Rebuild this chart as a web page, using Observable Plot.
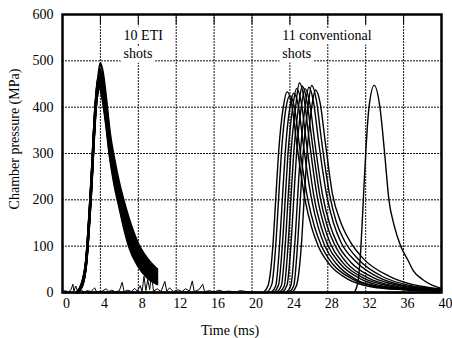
<!DOCTYPE html>
<html>
<head>
<meta charset="utf-8">
<script src="https://cdn.jsdelivr.net/npm/d3@7"></script>
<script src="https://cdn.jsdelivr.net/npm/@observablehq/plot@0.6"></script>
<style>
  html, body { margin: 0; padding: 0; background: white; }
  #chart { width: 452px; height: 338px; }
</style>
</head>
<body>
<div id="chart"></div>
<script>
// Axis ticks
const xTicks = [0, 4, 8, 12, 16, 20, 24, 28, 32, 36, 40];
const yTicks = [0, 100, 200, 300, 400, 500, 600];

// ETI shots (time in ms, pressure in MPa)
const etiT  = [1.5, 2.0, 2.5, 3.0, 3.5, 3.8, 4.0, 4.3, 4.6, 5.0, 5.5, 6.0, 6.5, 7.0, 8.0, 9.0, 10.0];
const eti1  = [0, 18, 70, 225, 410, 470, 495, 470, 420, 345, 285, 235, 195, 160, 105, 72, 50];
const eti2  = [0, 15, 65, 215, 400, 455, 480, 455, 410, 335, 275, 228, 188, 152, 100, 68, 46];
const eti3  = [0, 12, 62, 210, 395, 450, 470, 445, 400, 330, 268, 220, 180, 145, 95, 62, 42];
const eti4  = [0, 14, 68, 220, 405, 460, 465, 440, 395, 322, 262, 214, 172, 138, 88, 57, 38];
const eti5  = [0, 10, 60, 205, 390, 445, 460, 432, 388, 318, 255, 208, 165, 130, 82, 52, 34];
const eti6  = [0, 16, 72, 228, 412, 465, 455, 428, 382, 312, 250, 202, 160, 124, 76, 47, 30];
const eti7  = [0, 11, 63, 212, 398, 440, 450, 422, 378, 308, 246, 198, 154, 118, 70, 42, 27];
const eti8  = [0, 13, 66, 218, 402, 452, 448, 418, 372, 302, 240, 193, 148, 112, 65, 38, 24];
const eti9  = [0, 12, 64, 214, 396, 445, 442, 412, 368, 298, 236, 188, 142, 106, 60, 34, 21];
const eti10 = [0, 15, 69, 222, 408, 458, 440, 408, 362, 292, 230, 184, 138, 100, 56, 31, 18];

// Baseline noise of the ETI records
const noiseT = [0, 0.3, 0.6, 0.9, 1.1, 1.2, 1.4, 1.6, 2.0, 2.3, 2.6, 3.0, 3.4, 3.6, 4.2, 4.6, 4.9, 5.2, 5.6, 6.0, 6.3, 6.5, 6.9, 7.3, 7.6, 7.9, 8.2, 8.4, 8.6, 8.8, 9.0, 9.2, 9.4, 9.6, 10.0, 10.4, 10.8, 11.0, 11.3, 11.7, 12.2, 12.6, 13.0, 13.4, 13.7, 13.9, 14.4, 14.8, 15.0, 15.5, 16.0, 16.5, 17.0, 17.6, 18.2, 18.8, 19.4, 20.0];
const noiseP = [2, 4, 1, 6, 18, 3, 14, 2, 5, 1, 4, 2, 10, 1, 3, 8, 2, 5, 1, 4, 22, 2, 5, 2, 9, 3, 15, 2, 35, 4, 28, 6, 40, 3, 8, 2, 24, 3, 10, 2, 6, 2, 8, 3, 25, 2, 6, 18, 2, 4, 1, 5, 2, 3, 1, 4, 2, 1];

// Conventional shots: [time ms, pressure MPa]
const conv1  = [[21.2,0],[21.7,15],[22.2,100],[22.5,200],[22.8,300],[23.3,400],[23.7,433],[24.2,405],[24.7,325],[25.6,200],[26.3,140],[27.0,100],[28.2,60],[30.2,28],[32.7,12],[36,6],[40,3]];
const conv2  = [[21.6,0],[22.1,18],[22.5,100],[22.8,200],[23.1,300],[23.6,400],[24.0,425],[24.5,398],[25.0,318],[25.9,200],[26.6,142],[27.3,102],[28.5,62],[30.5,30],[33.0,13],[36.5,6],[40,3]];
const conv3  = [[22.0,0],[22.5,14],[22.9,100],[23.2,200],[23.5,300],[24.0,400],[24.4,430],[24.9,402],[25.4,322],[26.3,200],[27.0,140],[27.7,100],[28.9,62],[30.9,29],[33.4,13],[37,6],[40,3]];
const conv4  = [[22.3,0],[22.8,16],[23.2,100],[23.5,200],[23.8,300],[24.3,400],[24.7,440],[25.2,410],[25.7,330],[26.6,200],[27.3,142],[28.0,102],[29.3,62],[31.4,30],[34.0,13],[37.5,6],[40,3]];
const conv5  = [[22.6,0],[23.1,15],[23.5,100],[23.8,200],[24.1,300],[24.6,400],[25.0,452],[25.5,418],[26.0,335],[26.9,205],[27.6,145],[28.3,104],[29.6,64],[31.8,31],[34.5,14],[38,6],[40,4]];
const conv6  = [[22.9,0],[23.4,14],[23.8,100],[24.1,200],[24.4,300],[24.9,400],[25.3,445],[25.8,412],[26.3,332],[27.2,205],[27.9,146],[28.7,104],[30.0,64],[32.3,31],[35.0,14],[38.5,6],[40,4]];
const conv7  = [[23.2,0],[23.7,16],[24.1,100],[24.4,200],[24.7,300],[25.2,400],[25.6,440],[26.1,408],[26.6,328],[27.5,205],[28.2,148],[29.0,106],[30.4,66],[32.8,32],[35.5,15],[39,7],[40,5]];
const conv8  = [[23.6,0],[24.1,15],[24.5,100],[24.8,200],[25.1,300],[25.6,400],[26.0,443],[26.5,410],[27.0,330],[27.9,208],[28.6,150],[29.4,108],[30.9,68],[33.3,33],[36.0,15],[39,8],[40,6]];
const conv9  = [[23.9,0],[24.4,14],[24.8,100],[25.1,200],[25.4,300],[25.9,400],[26.3,447],[26.8,414],[27.3,334],[28.2,210],[28.9,152],[29.8,110],[31.3,70],[33.8,34],[36.5,16],[39,9],[40,6]];
const conv10 = [[24.2,0],[24.7,15],[25.2,100],[25.5,200],[25.8,300],[26.3,400],[26.7,437],[27.2,408],[27.7,330],[28.5,212],[29.3,155],[30.3,112],[31.8,72],[34.5,35],[37.0,17],[39,10],[40,7]];
const conv11 = [[30.8,0],[31.2,25],[31.5,100],[31.75,200],[32.0,300],[32.35,400],[32.9,447],[33.5,400],[34.0,300],[34.45,200],[35.0,145],[35.7,100],[36.5,68],[37.0,48],[38.0,28],[39.0,16],[40,9]];

// Build tables
const etiShots = [eti1, eti2, eti3, eti4, eti5, eti6, eti7, eti8, eti9, eti10];
const etiRows = etiShots.flatMap((p, i) => p.map((v, j) => ({shot: "e" + i, t: etiT[j], p: v})));
const noiseRows = noiseT.map((t, i) => ({t, p: noiseP[i]}));
const convShots = [conv1, conv2, conv3, conv4, conv5, conv6, conv7, conv8, conv9, conv10, conv11];
const convRows = convShots.flatMap((s, i) => s.map(([t, p]) => ({shot: "c" + i, t, p})));

const gridStyle = {stroke: "#111", strokeOpacity: 1, strokeWidth: 1, strokeDasharray: "2,1"};
const noteStyle = {textAnchor: "start", lineAnchor: "middle", lineHeight: 1.29, fontSize: 14, fill: "black", stroke: "white", strokeWidth: 9};

const chart = Plot.plot({
  width: 452,
  height: 338,
  marginLeft: 62,
  marginRight: 11,
  marginTop: 14,
  marginBottom: 46,
  style: {fontFamily: "'Liberation Serif', 'Times New Roman', serif", fontSize: "14px", background: "white", color: "black"},
  x: {domain: [0, 40]},
  y: {domain: [0, 600]},
  marks: [
    Plot.gridX(xTicks.slice(1, -1), gridStyle),
    Plot.gridY(yTicks.slice(1, -1), gridStyle),
    Plot.ruleX(xTicks.slice(1, -1), {y1: 600, y2: 578, stroke: "black", strokeWidth: 1}),
    Plot.text(["10 ETI\nshots"], {x: [6.45], y: [537], ...noteStyle}),
    Plot.text(["11 conventional\nshots"], {x: [23.2], y: [537], ...noteStyle}),
    Plot.line(noiseRows, {x: "t", y: "p", stroke: "black", strokeWidth: 1}),
    Plot.line(etiRows, {x: "t", y: "p", z: "shot", stroke: "black", strokeWidth: 2.2, curve: "monotone-x"}),
    Plot.line(convRows, {x: "t", y: "p", z: "shot", stroke: "black", strokeWidth: 1.4, curve: "monotone-x"}),
    Plot.ruleY([0], {stroke: "black", strokeWidth: 2}),
    Plot.frame({stroke: "black", strokeWidth: 2.5}),
    Plot.axisX(xTicks, {tickSize: 0, tickPadding: 6, dx: 4, fontSize: 14, label: null}),
    Plot.axisY(yTicks, {tickSize: 0, tickPadding: 9, fontSize: 14, label: null}),
    Plot.text(["Time (ms)"], {frameAnchor: "bottom", textAnchor: "middle", lineAnchor: "middle", dx: -22, dy: 38, fontSize: 14}),
    Plot.text(["Chamber pressure (MPa)"], {frameAnchor: "left", textAnchor: "middle", lineAnchor: "middle", rotate: -90, dx: -48, dy: -14.5, fontSize: 14})
  ]
});
document.getElementById("chart").appendChild(chart);
</script>
</body>
</html>
